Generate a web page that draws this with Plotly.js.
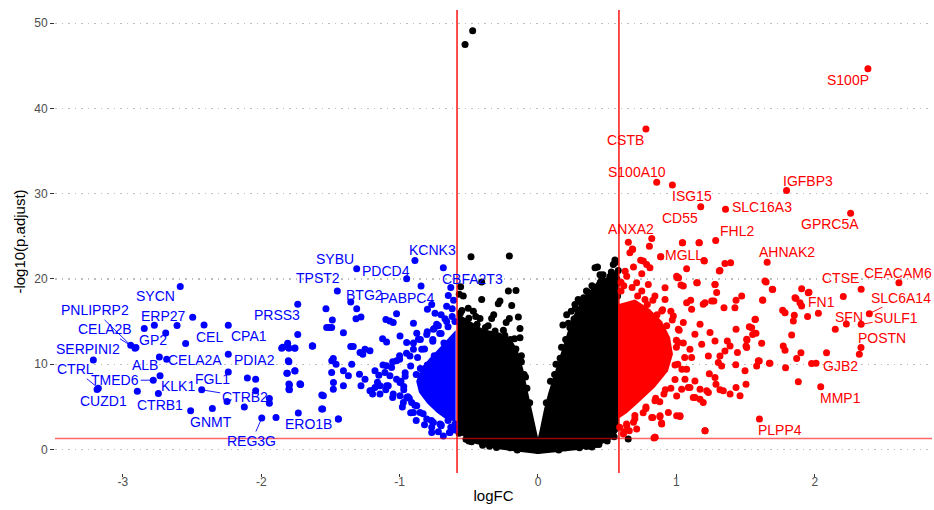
<!DOCTYPE html>
<html><head><meta charset="utf-8">
<script src="https://cdn.plot.ly/plotly-3.0.1.min.js"></script>
<style>body{margin:0;padding:0;background:#fff}#chart{width:934px;height:510px}</style>
</head><body><div id="chart"></div>
<script>
// ---- data ----
const labelGenes = ["S100P","CSTB","S100A10","ISG15","CD55","SLC16A3","IGFBP3","GPRC5A","FHL2","ANXA2","MGLL","AHNAK2","CTSE","CEACAM6","FN1","SLC6A14","SFN","SULF1","POSTN","GJB2","MMP1","PLPP4",
"SYCN","PNLIPRP2","CELA2B","GP2","ERP27","SERPINI2","CTRL","CUZD1","TMED6","ALB","CELA2A","KLK1","CTRB1","GNMT","CTRB2","FGL1","PDIA2","CPA1","CEL","REG3G","ERO1B","PRSS3","TPST2","SYBU","PDCD4","KCNK3","BTG2","PABPC4","CBFA2T3"];
const labelLogFC = [2.384,0.780,0.858,0.971,1.176,1.355,1.796,2.259,1.284,0.822,0.887,1.656,2.335,2.608,2.026,2.394,2.228,2.335,2.334,2.009,2.043,1.600,
-2.585,-2.943,-2.912,-2.905,-2.495,-3.213,-3.177,-3.186,-2.780,-2.736,-2.683,-2.731,-2.743,-2.510,-2.430,-2.238,-2.238,-2.238,-2.413,-1.996,-1.732,-1.736,-1.450,-1.310,-0.949,-0.889,-1.353,-0.845,-0.684];
const labelPadj = [44.63,37.58,31.33,31.00,28.45,28.17,30.36,27.70,24.50,24.74,22.60,21.97,18.78,19.56,15.97,15.93,14.72,14.68,11.96,10.12,7.35,3.57,
19.10,12.22,11.87,11.95,15.50,10.50,7.19,7.05,8.13,10.86,10.59,8.64,6.57,4.54,7.00,9.10,11.17,14.56,14.60,3.69,4.27,17.02,18.58,21.20,20.03,22.17,17.29,19.16,21.31];

const upFC = [0.653,0.684,0.664,0.742,0.785,0.809,0.886,1.043,1.166,1.202,1.074,1.351,1.392,1.315,1.007,1.033,1.151,1.279,1.291,1.103,1.207,1.271,1.344,1.431,1.472,1.423,1.64,1.696,1.623,1.571,1.527,1.551,1.616,1.508,1.508,1.431,1.368,1.388,1.351,1.441,1.315,1.303,1.429,1.496,1.58,1.672,1.592,1.503,1.431,1.46,1.388,1.315,1.286,1.238,1.219,1.171,1.135,1.171,1.002,1.026,0.881,0.829,0.893,1.207,0.846,1.086,
1.905,1.958,1.857,1.893,1.905,1.768,1.785,1.852,1.845,1.948,2.206,2.148,1.833,1.772,1.785,1.9,1.869,2.085,1.977,1.789,1.676,1.599,1.881,2.322,1.648,1.693,1.624,1.568,1.544,1.575,1.51,1.503,0.838,
0.682,0.805,1.199,1.31,0.761,1.016,1.953,1.864,1.163,1.045,
0.641,0.713,0.797,0.918,1.002,1.05,1.147,1.279,1.074,1.11,1.194,1.255,1.171,1.243,1.183,1.279,1.231,1.327,1.279,1.339,1.231,1.194,1.122,1.098,1.062,1.038,1.002,1.026,0.942,0.882,0.894,0.822,0.713,0.641,0.617,0.845,1.207,0.845,1.134,1.074,1.11,1.098,1.134,1.014,0.978,0.918,0.845,0.773,1.014,1.05,0.894,
0.60,0.63,0.69,0.75,0.96,1.0,0.99,0.91,0.78,0.70,0.66,0.62,
0.60,0.68,0.75,0.83,0.90,0.97,1.02,1.05,1.06,1.04,0.99,0.92,0.85,0.78,0.70,0.64,0.59,0.62,0.69,0.76,0.88,0.96,1.01,1.0,0.93,0.86,0.79,0.72,0.9,0.83,0.75,0.67];
const upP = [24.31,23.46,23.07,22.2,21.7,21.3,22.6,24.24,24.24,22.1,21.2,21.8,21.9,21.0,20.14,19.28,19.55,19.36,18.4,17.5,17.2,17.4,16.63,17.5,18.0,16.63,19.75,18.77,17.53,15.27,14.4,13.5,12.45,12.92,11.95,14.1,12.73,12.14,11.56,11.37,10.98,10.2,9.93,9.23,9.8,10.12,10.4,7.66,7.27,6.3,6.5,7.0,7.66,8.9,6.88,7.07,6.1,5.9,3.95,3.88,3.84,3.76,3.1,2.2,1.43,7.26,
18.86,18.45,17.8,17.22,16.83,16.32,16.04,15.73,15.07,15.6,17.93,14.1,13.43,12.15,11.64,11.36,10.66,11.36,10.08,9.6,10.12,10.39,7.94,11.17,19.63,18.78,17.49,15.26,14.28,13.62,12.84,12.14,1.34,
23.5,23.84,22.17,20.92,22.1,20.14,18.39,17.72,24.24,24.24,
20.33,19.56,19.36,18.97,20.33,19.16,19.56,19.36,17.22,16.44,17.02,17.41,14.68,13.71,12.34,12.73,10.97,9.8,8.45,6.88,6.69,5.52,6.1,7.27,8.25,7.08,6.29,3.96,4.35,3.96,2.98,3.77,2.4,2.79,1.81,1.43,2.2,5.71,8.05,9.42,10.78,11.76,13.51,12.54,15.65,17.6,17.99,17.6,14.1,14.88,16.24,
19.6,20.9,21.4,20.6,16.2,12.0,9.9,6.5,4.8,3.6,2.2,19.2,
18.6,19.0,18.6,17.5,16.4,15.2,14.0,12.5,10.8,9.4,8.2,7.0,6.0,5.0,4.0,3.0,2.6,2.1,3.2,4.3,5.6,7.2,10.0,12.8,14.5,15.8,17.0,18.0,10.5,12.5,14.0,16.0];

const downFC = [-2.845,-2.772,-2.69,-2.608,-2.546,-2.1,-2.04,-2.04,-2.122,-2.247,-1.941,-1.941,-1.893,-1.736,-1.852,-1.809,-1.8,-1.758,-1.631,-1.8,-1.815,-1.757,-1.796,-1.796,-1.715,-2.895,-2.353,
-1.532,-1.486,-1.527,-1.491,-1.406,-1.63,-1.353,-1.335,-1.25,-1.266,-1.214,-1.31,-1.315,-1.279,-1.099,-1.07,-1.022,-1.046,-1.123,-1.094,-0.997,-0.949,-0.876,-0.799,-0.768,-0.744,-0.732,-0.672,-0.648,-1.479,-1.459,-1.491,-1.406,-1.346,-1.37,-1.29,-1.25,-1.279,-1.214,-1.406,-1.479,-1.551,-1.556,-1.443,-1.72,-1.178,-1.142,-1.195,-1.046,-1.082,-0.997,-0.973,-1.094,
-1.507,-1.628,-1.845,-1.804,-1.756,-1.804,-1.811,-1.756,-1.8,-1.718,-1.8,-1.562,-1.563,-1.442,-1.49,-1.478,-1.286,-0.768,-0.70,-0.65,
-0.62,-0.66,-0.70,-0.75,-0.80,-0.85,-0.90,-0.95,-1.0,-1.05,-1.12,-1.15,-1.16,-1.10,-1.05,-0.98,-0.92,-0.88,-0.82,-0.72,-0.64,-0.60,-0.61,-0.63,-0.9,-0.85,
-1.0,-1.022,-1.058,-1.106,-1.07,-1.022,-1.094,-1.178,-1.202,-1.142,-0.997,-0.949,-0.913,-0.876,-0.852,-0.9,-0.804,-0.756,-0.708,-0.768,-0.636,-0.684,-0.84,-0.9,-0.925,-0.864,-0.804,-0.756,-0.72,
-0.62,-0.66,-0.71,-0.76,-0.96,-0.99,-0.97,-0.93,-0.88,-0.80,
-0.60,-0.65,-0.70,-0.76,-0.82,-0.87,-0.92,-0.96,-0.97,-0.94,-0.89,-0.83,-0.77,-0.70,-0.63,-0.60,-0.68,-0.75,-0.81,-0.84,-0.78,-0.70,-0.64];
const downP = [14.2,14.57,13.67,14.53,12.42,8.4,8.25,6.88,5.0,5.64,5.99,5.44,3.77,13.5,11.87,12.46,11.87,11.87,12.14,10.3,8.95,9.2,7.58,7.0,7.63,6.84,4.82,
16.52,15.2,14.3,14.3,13.7,12.15,12.07,12.07,11.76,11.18,11.57,16.5,15.34,15.53,15.26,15.07,15.93,14.9,13.0,12.6,13.32,12.54,13.63,16.44,17.0,15.98,14.7,15.34,18.07,10.66,10.0,9.03,9.23,10.0,8.64,8.84,8.25,7.47,6.88,7.47,7.08,6.3,4.74,3.57,7.67,9.23,7.47,6.5,6.5,7.47,7.86,5.51,9.81,
14.3,12.15,12.0,12.0,11.9,10.4,8.95,9.23,7.67,7.67,7.08,6.38,4.74,3.57,10.4,7.86,11.37,2.6,2.9,3.4,
16.5,16.8,15.8,14.2,13.8,12.9,12.5,11.3,11.0,10.3,9.9,8.7,7.9,7.0,6.1,5.0,4.3,3.4,2.9,2.1,2.0,2.3,17.5,19.0,14.8,9.5,
10.59,10.4,9.61,9.03,8.64,8.25,7.47,7.27,6.88,6.5,6.3,6.1,5.51,5.12,4.35,4.35,3.57,3.18,2.98,2.0,2.0,1.6,11.76,11.76,10.98,12.93,13.5,14.1,14.5,
15.6,15.0,13.6,12.9,9.0,8.0,7.0,6.0,8.8,9.9,
15.0,14.4,13.6,12.7,11.8,10.8,9.8,8.6,7.4,6.2,5.2,4.2,3.4,2.8,2.6,3.0,12.5,11.0,9.6,7.5,6.2,5.0,4.2];

const nsFC = [-0.527,-0.472,-0.484,-0.207,-0.407,-0.559,-0.569,-0.54,-0.407,-0.214,-0.159,-0.19,-0.287,-0.275,-0.504,-0.467,-0.335,-0.207,-0.142,-0.13,-0.13,-0.419,
0.556,0.544,0.412,0.448,0.532,0.364,0.496,0.267,0.207,0.652,-0.419,0.556,0.30,0.18,0.575,0.575,0.56,0.34,0.39,0.44,-0.48,-0.52,
-0.55,-0.45,-0.36,-0.25,-0.17,-0.12,-0.09,-0.06,0.06,0.09,0.13,0.17,0.22,0.27,0.33,0.39,0.46,0.53,0.57,-0.2,0.0,0.2,-0.35,0.35,
-0.56,-0.50,-0.44,-0.38,-0.31,-0.24,-0.20,-0.16,-0.12,-0.10,-0.08,0.12,0.16,0.20,0.23,0.26,0.32,0.38,0.45,0.52,0.58,0.47,0.35,
-0.50,-0.40,-0.30,-0.15,0.15,0.30,0.42,0.50,0.55,-0.57,-0.23,-0.32,0.24,0.29,0.43];
const nsP = [47.5,49.1,22.6,22.7,19.64,19.09,18.2,18.0,17.6,18.6,18.66,16.9,17.1,17.4,16.55,16.2,15.35,15.35,15.54,14.2,13.1,15.35,
22.21,21.7,21.3,20.5,20.5,18.4,18.4,17.0,15.8,1.23,1.03,21.9,17.3,14.6,19.5,18.0,16.5,0.5,0.3,0.6,0.9,1.2,
16.3,15.6,14.5,14.0,13.0,11.0,8.5,5.5,5.5,8.0,10.0,12.0,14.8,16.5,17.8,19.2,19.9,20.8,20.0,0.2,-0.1,0.2,0.4,0.35,
16.0,15.4,14.7,14.3,13.9,13.4,12.9,11.8,10.3,8.8,7.2,8.8,10.7,12.9,14.3,15.3,17.0,18.3,19.6,20.3,21.0,20.5,18.6,
1.0,0.5,0.25,-0.05,-0.05,0.2,0.6,1.0,1.5,1.9,14.9,15.8,16.2,17.6,21.4];

// outlines of the solid, fully overplotted cores of each group
const nsCoreFC = [-0.583,-0.583,-0.515,-0.395,-0.275,-0.19,-0.142,-0.106,-0.077,-0.046,-0.014,0.0,0.014,0.043,0.075,0.111,0.147,0.195,0.243,0.291,0.352,0.424,0.496,0.569,0.583,0.583,0.542,0.441,0.289,0.0,-0.299,-0.455,-0.556];
const nsCoreP = [2.2,16.0,15.3,14.1,13.7,12.9,11.4,9.4,7.1,4.7,2.4,1.4,2.4,4.7,6.7,8.6,10.2,12.9,15.3,16.8,18.2,19.6,20.2,21.1,21.0,2.3,1.3,0.47,-0.06,-0.53,0.06,0.68,1.7];
const upCoreFC = [0.578,0.701,0.809,0.896,0.954,0.975,0.939,0.845,0.737,0.643,0.578];
const upCoreP = [17.02,17.6,16.44,15.04,13.17,11.17,9.19,7.31,5.67,4.27,3.57];
const downCoreFC = [-0.595,-0.65,-0.72,-0.79,-0.85,-0.88,-0.86,-0.80,-0.73,-0.66,-0.595];
const downCoreP = [14.0,13.0,11.8,10.6,9.3,8.0,6.7,5.4,4.3,3.5,3.3];

const fcCut = 0.585, pCut = 1.301;
const xTicks = [-3,-2,-1,0,1,2];
const yTicks = [0,10,20,30,40,50];

// ---- presentation ----
const labelOffset = {S100P:[-20,11],CSTB:[-20,11],S100A10:[-20,-10],ISG15:[20,11],CD55:[-21,11],SLC16A3:[36,-2],IGFBP3:[21,-10],GPRC5A:[-21,11],FHL2:[21,-10],ANXA2:[-21,-10],MGLL:[23,-2],AHNAK2:[20,-10],CTSE:[-21,-11],CEACAM6:[-1,-10],FN1:[3,-11],SLC6A14:[32,-16],SFN:[3,-7],SULF1:[35,-6],POSTN:[21,-10],GJB2:[24,3],MMP1:[20,11],PLPP4:[21,11],
SYCN:[-25,9],PNLIPRP2:[-36,-35],CELA2B:[-30,-19],GP2:[17,-8],ERP27:[-29,-1],SERPINI2:[-5,-11],CTRL:[-23,-19],CUZD1:[6,12],TMED6:[-38,0],ALB:[-14,8],CELA2A:[28,1],KLK1:[18,10],CTRB1:[2,11],GNMT:[20,11],CTRB2:[43,7],FGL1:[-16,7],PDIA2:[26,6],CPA1:[21,11],CEL:[5,12],REG3G:[-10,23],ERO1B:[10,11],PRSS3:[-21,11],TPST2:[-19,-13],SYBU:[-22,-10],PDCD4:[-21,-8],KCNK3:[18,-10],BTG2:[14,-7],PABPC4:[-14,12],CBFA2T3:[29,11]};
const withSegment = new Set(["SLC6A14","SULF1","PNLIPRP2","CELA2B","CTRL","TMED6","CTRB2","REG3G"]);

const UP = '#FF0000', DOWN = '#0000FF', NS = '#000000';
const FONT = 'Liberation Sans, Arial, Helvetica, sans-serif';
const mk = c => ({color:c, size:7, line:{width:0}});
const core = (x,y,c) => ({type:'scatter',mode:'lines',x:x,y:y,fill:'toself',fillcolor:c,line:{width:0,color:c},hoverinfo:'skip',showlegend:false});

const lblUp = labelGenes.map((g,i)=>labelLogFC[i]>0);
const traces = [
  core(nsCoreFC, nsCoreP, NS),
  {type:'scatter',mode:'markers',x:nsFC,y:nsP,marker:mk(NS),showlegend:false},
  core(downCoreFC, downCoreP, DOWN),
  {type:'scatter',mode:'markers',x:downFC,y:downP,marker:mk(DOWN),showlegend:false},
  core(upCoreFC, upCoreP, UP),
  {type:'scatter',mode:'markers',x:upFC,y:upP,marker:mk(UP),showlegend:false},
  {type:'scatter',mode:'markers',x:labelLogFC,y:labelPadj,marker:{size:7,color:lblUp.map(u=>u?UP:DOWN),line:{width:0}},text:labelGenes,showlegend:false}
];

const annotations = labelGenes.map((g,i)=>{
  const c = lblUp[i] ? UP : DOWN;
  const o = labelOffset[g];
  const base = {x:labelLogFC[i], y:labelPadj[i], xref:'x', yref:'y', text:g, font:{family:FONT,size:14,color:c}};
  if (withSegment.has(g)) {
    return Object.assign(base,{showarrow:true, ax:o[0], ay:o[1], arrowhead:0, arrowwidth:0.9, arrowcolor:c, standoff:3});
  }
  return Object.assign(base,{showarrow:false, xshift:o[0], yshift:-o[1]});
});

const shapes = [
  {type:'line',xref:'x',yref:'paper',x0:-fcCut,x1:-fcCut,y0:0,y1:1,line:{color:'#FF0000',width:1.4}},
  {type:'line',xref:'x',yref:'paper',x0:fcCut,x1:fcCut,y0:0,y1:1,line:{color:'#FF0000',width:1.4}},
  {type:'line',xref:'paper',yref:'y',x0:0,x1:1,y0:pCut,y1:pCut,line:{color:'rgba(255,0,0,0.6)',width:1.4}}
];

const layout = {
  width:934, height:510,
  margin:{l:55,r:2,t:10,b:37},
  paper_bgcolor:'#fff', plot_bgcolor:'#fff',
  font:{family:FONT},
  showlegend:false,
  xaxis:{range:[-3.49,2.847], tickvals:xTicks, ticktext:xTicks.map(String), ticks:'outside', ticklen:3, tickcolor:'#333', tickwidth:1,
    tickfont:{size:12,color:'#4D4D4D',family:FONT}, ticklabelstandoff:-5, showgrid:false, zeroline:false, showline:false,
    title:{text:'logFC', font:{size:15,color:'#000',family:FONT}, standoff:2}},
  yaxis:{range:[-2.75,51.53], tickvals:yTicks, ticktext:yTicks.map(String), ticks:'outside', ticklen:4, tickcolor:'#333', tickwidth:1,
    tickfont:{size:12,color:'#4D4D4D',family:FONT}, showgrid:true, gridcolor:'#BEBEBE', griddash:'1.5px,5px', gridwidth:1.1, zeroline:false, showline:false,
    title:{text:'-log10(p.adjust)', font:{size:15,color:'#000',family:FONT}, standoff:4}},
  shapes:shapes,
  annotations:annotations
};
Plotly.newPlot('chart', traces, layout, {displayModeBar:false, staticPlot:true});
</script></body></html>
